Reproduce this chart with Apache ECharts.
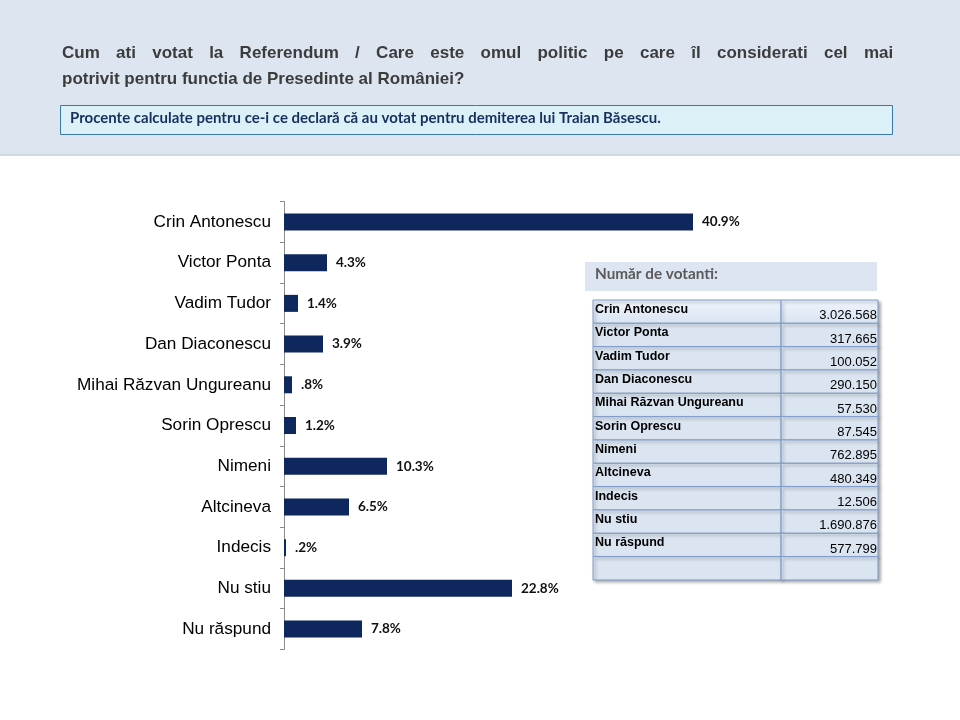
<!DOCTYPE html>
<html>
<head>
<meta charset="utf-8">
<script src="https://cdn.jsdelivr.net/npm/echarts@6/dist/echarts.min.js"></script>
<style>html,body{margin:0;padding:0;background:#fff}#c{width:960px;height:720px}</style>
</head>
<body>
<div id="c"></div>
<script>
const categories = ['Crin Antonescu','Victor Ponta','Vadim Tudor','Dan Diaconescu','Mihai Răzvan Ungureanu','Sorin Oprescu','Nimeni','Altcineva','Indecis','Nu stiu','Nu răspund'];
const percentages = [40.9, 4.3, 1.4, 3.9, 0.8, 1.2, 10.3, 6.5, 0.2, 22.8, 7.8];
const tableNames = ['Crin Antonescu','Victor Ponta','Vadim Tudor','Dan Diaconescu','Mihai Răzvan Ungureanu','Sorin Oprescu','Nimeni','Altcineva','Indecis','Nu stiu','Nu răspund',''];
const votes = [3026568, 317665, 100052, 290150, 57530, 87545, 762895, 480349, 12506, 1690876, 577799, null];

const titleLine1 = ['Cum','ati','votat','la','Referendum','/','Care','este','omul','politic','pe','care','îl','considerati','cel','mai'];
const titleLine2 = 'potrivit pentru functia de Presedinte al României?';
const noteText = 'Procente calculate pentru ce-i ce declară că au votat pentru demiterea lui Traian Băsescu.';
const tableTitle = 'Număr de votanti:';

function fmtVotes(v){
  if (v == null) return '';
  return String(v).replace(/\B(?=(\d{3})+(?!\d))/g, '.');
}
function fmtPct(v){
  return v.toFixed(1).replace(/^0/, '') + '%';
}

const chart = echarts.init(document.getElementById('c'));
const tableData = tableNames.map((n, i) => [0, i, n, votes[i]]);

chart.setOption({
  animation: false,
  backgroundColor: '#ffffff',
  title: {
    text: titleLine1.join('{g| }') + '\n' + titleLine2,
    left: 57, top: 35,
    textStyle: {fontFamily: 'Liberation Sans, Arial', fontSize: 17, fontWeight: 'bold', color: '#3c3c3c', lineHeight: 26,
      rich: {g: {width: 16.3, fontSize: 17, lineHeight: 26}}}
  },
  graphic: [
    {type: 'rect', z: -10, shape: {x: 0, y: 0, width: 960, height: 156}, style: {fill: '#dce5f0'}},
    {type: 'rect', z: -10, shape: {x: 0, y: 154, width: 960, height: 2}, style: {fill: '#d0d9e4'}},
    {type: 'rect', z: -5, shape: {x: 60.5, y: 105.5, width: 832, height: 29}, style: {fill: '#dcf0f8', stroke: '#3a78a8', lineWidth: 1}},
    {type: 'text', z: -4, left: 70, top: 111, style: {text: noteText, fontFamily: 'Lato', fontSize: 15, fontWeight: 'bold', fill: '#17305e'}},
    {type: 'rect', z: -5, shape: {x: 585, y: 262, width: 292, height: 29}, style: {fill: '#dce5f1'}},
    {type: 'text', z: -4, left: 595, top: 267, style: {text: tableTitle, fontFamily: 'Lato', fontSize: 15.3, fontWeight: 'bold', fill: '#5a5a5a'}}
  ],
  grid: [
    {left: 284, top: 201.6, height: 447.8, width: 500},
    {left: 593, top: 300, width: 285, height: 280}
  ],
  xAxis: [
    {gridIndex: 0, type: 'value', min: 0, max: 50, show: false},
    {gridIndex: 1, type: 'value', min: 0, max: 1, show: false}
  ],
  yAxis: [
    {
      gridIndex: 0, type: 'category', data: categories, inverse: true,
      axisLine: {show: true, lineStyle: {color: '#8c8c8c', width: 1}},
      axisTick: {show: true, length: 4, inside: false, lineStyle: {color: '#8c8c8c'}},
      axisLabel: {margin: 13, fontFamily: 'Liberation Sans, Arial', fontSize: 17.2, color: '#000000'},
      splitLine: {show: false}
    },
    {gridIndex: 1, type: 'category', data: tableNames, inverse: true, show: false}
  ],
  series: [
    {
      type: 'bar', xAxisIndex: 0, yAxisIndex: 0,
      data: percentages, barWidth: 17,
      itemStyle: {color: '#0e275c'},
      label: {show: true, position: 'right', distance: 9, formatter: p => fmtPct(p.value),
        fontFamily: 'Lato', fontSize: 13.5, fontWeight: 'bold', color: '#111111'}
    },
    {
      type: 'custom', xAxisIndex: 1, yAxisIndex: 1,
      data: tableData,
      encode: {x: 0, y: 1},
      renderItem: function(params, api){
        const row = api.value(1);
        const p0 = api.coord([0, row]);
        const p1 = api.coord([1, row]);
        const h = api.size([0, 1])[1];
        const top = p0[1] - h / 2;
        const left = p0[0], right = p1[0];
        const split = left + (right - left) * 0.66;
        const name = tableNames[row];
        const v = votes[row];
        const first = row === 0;
        const fill = first ? new echarts.graphic.LinearGradient(0, 0, 0, 1, [{offset: 0, color: '#f0f4fb'}, {offset: 1, color: '#d9e4f3'}]) : '#dbe5f1';
        const shadow = {shadowColor: 'rgba(0,0,0,0.35)', shadowBlur: 3, shadowOffsetX: 2, shadowOffsetY: 2};
        return {
          type: 'group',
          children: [
            {type: 'rect', shape: {x: left, y: top, width: split - left, height: h}, style: Object.assign({fill: fill, stroke: '#7f9cc9', lineWidth: 1}, shadow)},
            {type: 'rect', shape: {x: split, y: top, width: right - split, height: h}, style: Object.assign({fill: fill, stroke: '#7f9cc9', lineWidth: 1}, shadow)},
            {type: 'text', style: {x: left + 2, y: top + 3, text: name, textVerticalAlign: 'top', verticalAlign: 'top', fontFamily: 'Liberation Sans, Arial', fontSize: 12.5, fontWeight: 'bold', fill: '#000'}},
            {type: 'text', style: {x: right - 1, y: top + h - 1, text: fmtVotes(v), align: 'right', verticalAlign: 'bottom', textAlign: 'right', textVerticalAlign: 'bottom', fontFamily: 'Liberation Sans, Arial', fontSize: 13, fill: '#000'}}
          ]
        };
      }
    }
  ]
});
</script>
</body>
</html>
